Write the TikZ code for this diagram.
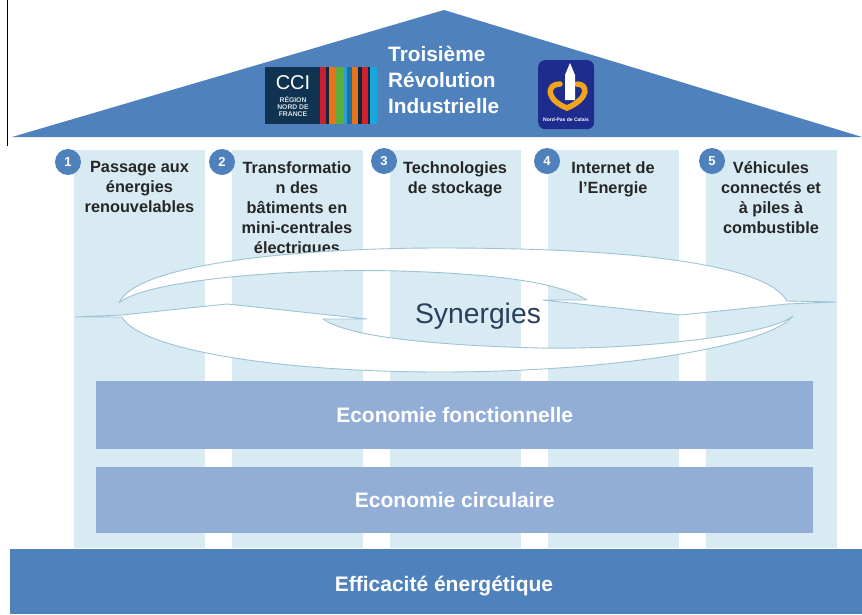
\documentclass[tikz,border=0pt]{standalone}
\usepackage{fontspec}
\setmainfont{Liberation Sans}
\definecolor{roofblue}{HTML}{4F81BD}
\definecolor{colblue}{HTML}{D8EAF2}
\definecolor{barblue}{HTML}{92AED6}
\definecolor{ribline}{HTML}{9CC4D4}
\definecolor{ink}{HTML}{262626}
\definecolor{syn}{HTML}{2B3F5C}
\definecolor{ccinavy}{HTML}{0F3350}
\definecolor{npblue}{HTML}{1E2C8E}
\definecolor{heart}{HTML}{EFA51E}
\tikzset{
  x=1pt,y=-1pt,
  col/.style={fill=colblue,draw=none,minimum width=130.5pt,minimum height=398pt,inner sep=0pt,anchor=north west},
  num/.style={circle,fill=roofblue,draw=none,minimum size=26pt,inner sep=0pt,text=white,font=\bfseries\fontsize{13}{13}\selectfont},
  coltext/.style={align=center,text=ink,font=\bfseries\fontsize{16.3}{20}\selectfont,anchor=north,inner sep=0pt},
  barbox/.style={fill=barblue,draw=none,minimum width=717pt,inner sep=0pt,text=white,font=\bfseries\fontsize{21}{23}\selectfont},
  ribbon/.style={fill=white,draw=ribline,line width=0.9pt,line join=round},
}
\begin{document}
\begin{tikzpicture}
\useasboundingbox (0,0) rectangle (862,614);
\fill[white] (0,0) rectangle (862,614);
% columns
\node[col] (c1) at (74,150) {};
\node[col] (c2) at (232,150) {};
\node[col] (c3) at (390,150) {};
\node[col] (c4) at (548,150) {};
\node[col] (c5) at (706,150) {};
% column titles
\node[coltext] (t1) at (139.5,161) {Passage aux\\énergies\\renouvelables};
\node[coltext] (t2) at (297,161) {Transformatio\\n des\\bâtiments en\\mini-centrales\\électriques};
\node[coltext] (t3) at (455,161) {Technologies\\de stockage};
\node[coltext] (t4) at (613,161) {Internet de\\l’Energie};
\node[coltext] (t5) at (771,161) {Véhicules\\connectés et\\à piles à\\combustible};
% number badges
\node[num] (n1) at (68,162) {1};
\node[num] (n2) at (222,162) {2};
\node[num] (n3) at (384,161) {3};
\node[num] (n4) at (547,161) {4};
\node[num] (n5) at (712,161) {5};
% lower ribbon
\draw[ribbon] (75,317) -- (122,315) -- (227,304) -- (367,319) -- (323,319)
  .. controls (345,335) and (420,345) .. (540,348)
  .. controls (640,350) and (770,335) .. (793,316)
  .. controls (770,345) and (620,372) .. (440,372)
  .. controls (280,372) and (140,350) .. (122,317) -- cycle;
% upper ribbon
\draw[ribbon] (836,302) -- (787,304) -- (681,315) -- (543,300) -- (587,300)
  .. controls (560,283) and (500,274) .. (400,271)
  .. controls (290,268) and (145,280) .. (119,303)
  .. controls (135,265) and (290,248) .. (440,248)
  .. controls (620,248) and (765,262) .. (787,301) -- cycle;
\node[text=syn,font=\fontsize{28.3}{30}\selectfont,inner sep=0pt] (syn) at (478,316) {Synergies};
% bars
\node[barbox,minimum height=68pt,anchor=north west] (b1) at (96,381) {Economie fonctionnelle};
\node[barbox,minimum height=66pt,anchor=north west] (b2) at (96,467) {Economie circulaire};
\node[fill=roofblue,draw=none,minimum width=852pt,minimum height=65pt,inner sep=0pt,anchor=north west,text=white] (base) at (10,549) {};
\node[text=white,font=\bfseries\fontsize{21}{23}\selectfont,inner sep=0pt] (basetext) at (444,586) {Efficacité énergétique};
% roof
\fill[roofblue] (444,10) -- (862,137) -- (12,137) -- cycle;
\draw[black,line width=0.9pt] (7.5,0) -- (7.5,146);
\node[text=white,align=left,font=\bfseries\fontsize{20.8}{26.3}\selectfont,inner sep=0pt,anchor=west] (title) at (388,80) {Troisième\\Révolution\\Industrielle};
% CCI logo
\fill[ccinavy] (265,67) rectangle (377,124);
\foreach \a/\b/\c in {320/326/C8202F,326/329/1A2438,329/336/E8731B,336/344/5BAE3A,344/347/2A9FD0,347/352/1C6FA8,352/358/E8731B,358/362/12263E,362/368/D3202A,368/370/12263E,370/377/1CA6DE}
  {\definecolor{st}{HTML}{\c}\fill[st] (\a,67) rectangle (\b,124);}
\node[text=white,font=\fontsize{20}{20}\selectfont,inner sep=0pt] (ccit) at (293,83) {CCI};
\node[text=white!85!ccinavy,align=center,font=\bfseries\fontsize{6.8}{7}\selectfont,inner sep=0pt] (ccis) at (293,106.5) {RÉGION\\NORD DE\\FRANCE};
% regional logo
\node[fill=npblue,rounded corners=7pt,minimum width=56pt,minimum height=69pt,inner sep=0pt,anchor=north west] (reg) at (538,60) {};
\draw[heart,line width=5.5pt,line cap=round] (560,84) .. controls (546,84) and (546,100) .. (567,108) .. controls (590,98) and (588,84) .. (577,84);
\fill[white] (570,63) -- (575,75) -- (575,100) -- (565,100) -- (565,75) -- cycle;
\node[text=white,font=\bfseries\fontsize{5}{5}\selectfont,inner sep=0pt] (regt) at (566,120) {Nord-Pas de Calais};
\end{tikzpicture}
\end{document}
